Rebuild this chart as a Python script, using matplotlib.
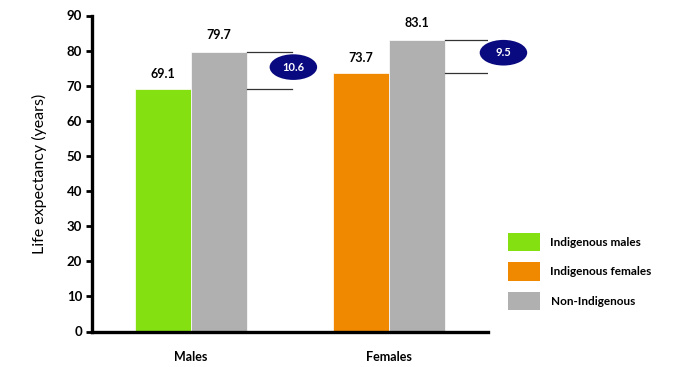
import matplotlib
matplotlib.use("Agg")
import matplotlib.pyplot as plt
from matplotlib.patches import Ellipse, Patch
import numpy as np

categories = ["Males", "Females"]
indigenous = [69.1, 73.7]
non_indigenous = [79.7, 83.1]
gaps = [10.6, 9.5]
legend_labels = ["Indigenous males", "Indigenous females", "Non-Indigenous"]
yticks = [0, 10, 20, 30, 40, 50, 60, 70, 80, 90]

green = "#84e010"
orange = "#f08800"
gray = "#b0b0b0"
navy = "#0a0a80"

plt.rcParams['font.family'] = ['Lato', 'DejaVu Sans']

fig = plt.figure(figsize=(6.75, 3.67), dpi=100)
ax = fig.add_axes([92/675, 1-331.5/367, 396/675, 316/367])

x = np.arange(len(categories))
w = 0.285
ind_colors = [green, orange]
ax.bar(x - w/2, indigenous, w, color=ind_colors, edgecolor="white", linewidth=0.5)
ax.bar(x + w/2, non_indigenous, w, color=gray, edgecolor="white", linewidth=0.5)

for xi, v in zip(x, indigenous):
    ax.text(xi - w/2, v + 4.2, f"{v}", ha="center", va="center", fontsize=9, fontweight="bold")
for xi, v in zip(x, non_indigenous):
    ax.text(xi + w/2, v + 4.8, f"{v}", ha="center", va="center", fontsize=9, fontweight="bold")

ell_dx = [0.232, 0.293]
ell_dy = [0.9, 1.0]
for i, (xi, lo, hi, g) in enumerate(zip(x, indigenous, non_indigenous, gaps)):
    x0 = xi + w
    x1 = x0 + 0.227
    ax.plot([x0, x1], [hi, hi], color="#333333", lw=0.9)
    ax.plot([x0, x1], [lo, lo], color="#333333", lw=0.9)
    cx = x0 + ell_dx[i]
    cy = (lo + hi) / 2 + ell_dy[i]
    e = Ellipse((cx, cy), 0.24, 7.3, facecolor=navy, edgecolor="none", clip_on=False, zorder=5)
    ax.add_patch(e)
    ax.text(cx, cy, f"{g}", ha="center", va="center", color="white", fontsize=8, fontweight="bold", zorder=6)

ax.set_xlim(-0.5, 1.5)
ax.set_ylim(0, 90)
ax.set_yticks(yticks)
ax.set_yticklabels([str(t) for t in yticks], fontsize=9.5, fontweight="bold")
ax.set_xticks(x)
ax.set_xticklabels(categories, fontsize=9, fontweight="bold")
ax.tick_params(axis="x", length=0, pad=14)
ax.tick_params(axis="y", length=4, width=2, pad=3)
for s in ["top", "right"]:
    ax.spines[s].set_visible(False)
for s in ["left", "bottom"]:
    ax.spines[s].set_linewidth(2.4)
ax.set_ylabel("Life expectancy (years)", fontsize=11.5, labelpad=14)

handles = [Patch(facecolor=c) for c in [green, orange, gray]]
leg = fig.legend(handles, legend_labels, loc="upper left",
                 bbox_to_anchor=(508/675, 1-233/367), frameon=False,
                 prop={"size": 8.5, "weight": "bold"},
                 handlelength=2.7, handleheight=2.0, labelspacing=0.95,
                 handletextpad=0.9, borderpad=0, borderaxespad=0)

fig.savefig("out.png", dpi=100)
